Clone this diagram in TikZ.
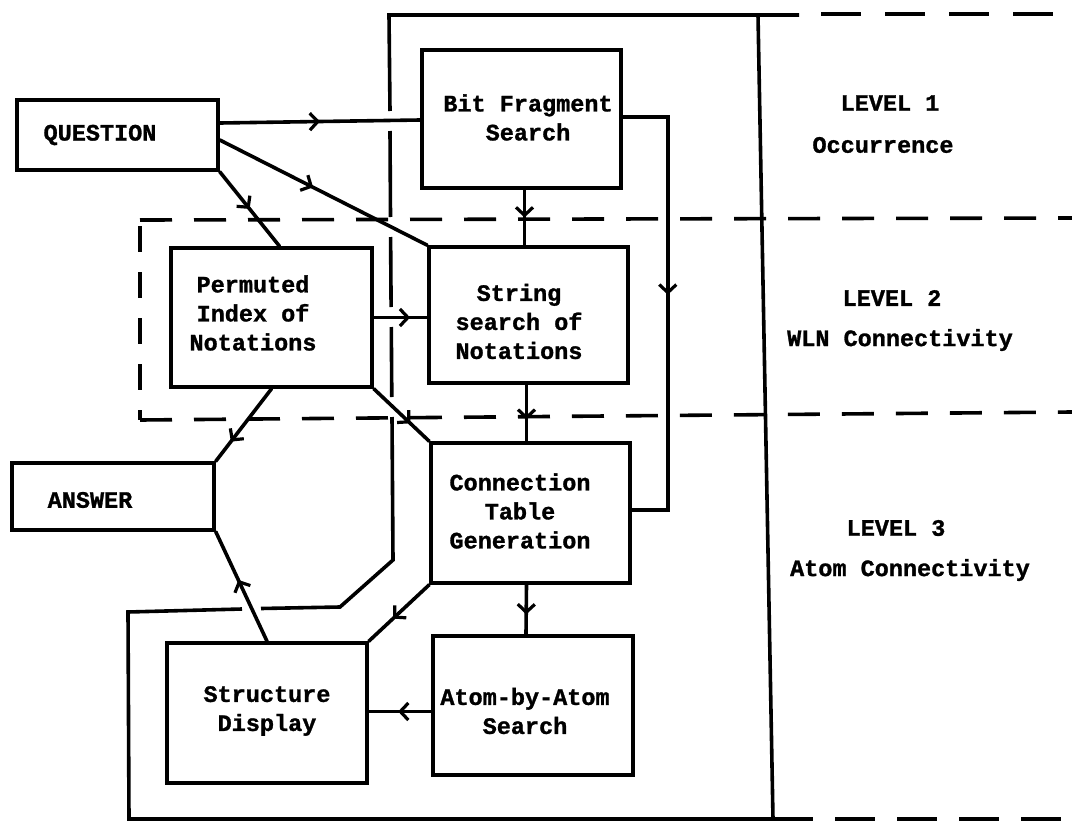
\documentclass[tikz,border=0pt]{standalone}
\usepackage{fontspec}
\newfontfamily\tw{Liberation Mono}[BoldFeatures={FakeBold=1.2}]
\usetikzlibrary{arrows.meta,decorations.markings}
\begin{document}
\begin{tikzpicture}[x=1pt,y=-1pt,
  lw/.style={line width=3.6pt},
  box/.style={draw, lw, rectangle, inner sep=0pt},
  txt/.style={font=\tw\bfseries\fontsize{23.5}{29}\selectfont, align=center, inner sep=0pt},
  conn/.style={lw, line cap=round, line join=miter},
  midarrow/.style={postaction={decorate}, decoration={markings, mark=at position #1 with {\arrow{Straight Barb[length=8pt,width=17pt,line width=3.2pt]}}}},
  frame/.style={lw, line join=miter},
  dashline/.style={lw, dash pattern=on 32pt off 22pt},
]
\fill[white] (0,0) rectangle (1072,822);
\useasboundingbox (0,0) rectangle (1072,822);

% solid frame (with gaps where connectors cross)
\draw[frame] (390,111) -- (389,15) -- (799,15);
\draw[frame] (390,131) -- (390.5,217);
\draw[frame] (390.6,237) -- (391.1,307);
\draw[frame] (391.3,327) -- (391.8,397);
\draw[frame] (392,417) -- (393,560) -- (340,607) -- (261,608.5);
\draw[frame] (242,609) -- (128,612) -- (129,819) -- (773,819) -- (758,15);

% dashed level boundaries
\draw[dashline, dash pattern=on 40pt off 24pt] (821,14) -- (1072,14);
\draw[dashline] (140,220) -- (1072,218);
\draw[dashline] (140,420) -- (1072,412);
\draw[lw, dash pattern=on 26pt off 20pt] (140,226) -- (140,420);
\draw[dashline, dash pattern=on 40pt off 22pt] (773,819) -- (1072,819);

% boxes
\node[box, minimum width=201pt, minimum height=70pt]  (q)  at (117.5,135) {};
\node[box, minimum width=199pt, minimum height=138pt] (bf) at (521.5,119) {};
\node[box, minimum width=201pt, minimum height=139pt] (pi) at (271.5,317.5) {};
\node[box, minimum width=199pt, minimum height=136pt] (ss) at (528.5,315) {};
\node[box, minimum width=199pt, minimum height=140pt] (ct) at (530.5,513) {};
\node[box, minimum width=200pt, minimum height=139pt] (aa) at (533,705.5) {};
\node[box, minimum width=200pt, minimum height=140pt] (sd) at (267,713) {};
\node[box, minimum width=202pt, minimum height=67pt]  (an) at (113,496.5) {};

% box texts
\node[txt] (qt)  at (100,135)   {QUESTION};
\node[txt] (bft) at (528,117.5) {Bit Fragment\\Search};
\node[txt] (pit) at (253,313)   {Permuted\\Index of\\Notations};
\node[txt] (sst) at (519,321.5) {String\\search of\\Notations};
\node[txt] (ctt) at (520,511)   {Connection\\Table\\Generation};
\node[txt] (aat) at (525,711)   {Atom-by-Atom\\Search};
\node[txt] (sdt) at (267,711)   {Structure\\Display};
\node[txt] (ant) at (90,500)    {ANSWER};

% level labels
\node[txt] (l1) at (890,103) {LEVEL 1};
\node[txt] (o1) at (883,145) {Occurrence};
\node[txt] (l2) at (892,298) {LEVEL 2};
\node[txt] (o2) at (900,340) {WLN Connectivity};
\node[txt] (l3) at (896,528) {LEVEL 3};
\node[txt] (o3) at (910,570) {Atom Connectivity};

% connectors
\coordinate (aaw) at ([yshift=-6pt]aa.west);
\draw[conn, midarrow=0.5]  ([yshift=12pt]q.east) -- ([yshift=-1pt]bf.west);
\draw[conn, midarrow=0.45] ([yshift=-5pt]q.east) -- (ss.north west);
\draw[conn, midarrow=0.5]  (q.south east) -- ([xshift=8pt]pi.north);
\draw[conn, midarrow=0.5]  ([xshift=3pt]bf.south) -- ([xshift=-4pt]ss.north);
\draw[conn, midarrow=0.47] ([yshift=2pt]bf.east) -- ++(45,0) |- ([yshift=3pt]ct.east);
\draw[conn, midarrow=0.68] (pi.east) -- (pi.east -| ss.west);
\draw[conn, midarrow=0.62] ([xshift=-2pt]ss.south) -- ([xshift=-4pt]ct.north);
\draw[conn, midarrow=0.66] (pi.south east) -- (ct.north west);
\draw[conn, midarrow=0.73] (pi.south) -- (an.north east);
\draw[conn, midarrow=0.6]  ([xshift=-4pt]ct.south) -- ([xshift=-7pt]aa.north);
\draw[conn, midarrow=0.6]  (ct.south west) -- (sd.north east);
\draw[conn, midarrow=0.53] (aaw) -- (aaw -| sd.east);
\draw[conn, midarrow=0.56] (sd.north) -- (an.south east);
\end{tikzpicture}
\end{document}
